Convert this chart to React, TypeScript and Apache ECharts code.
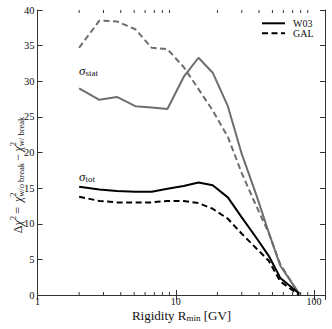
import React, { useEffect, useRef } from 'react';
import * as echarts from 'echarts';

const rigidity = [2.0, 2.8, 3.75, 5.1, 6.7, 8.7, 11.4, 14.6, 18.5, 23.8, 30, 38, 47, 57, 78];
const w03Stat = [29.0, 27.4, 27.8, 26.5, 26.3, 26.1, 30.6, 33.3, 31.2, 26.5, 19.8, 14.2, 8.8, 4.1, 0.2];
const galStat = [34.7, 38.5, 38.4, 37.3, 34.7, 34.5, 32.0, 28.9, 25.9, 22.2, 17.1, 12.6, 8.7, 4.3, 0.1];
const w03Tot = [15.2, 14.8, 14.6, 14.5, 14.5, 14.9, 15.3, 15.8, 15.4, 13.7, 10.9, 8.1, 5.5, 2.4, 0.2];
const galTot = [13.8, 13.2, 13.0, 13.0, 13.0, 13.2, 13.2, 12.9, 12.1, 10.7, 8.6, 6.6, 4.8, 1.9, 0.0];
const xMajorLabels = [1, 10, 100];
const xMinorTicks = [2, 3, 4, 5, 6, 7, 8, 9, 20, 30, 40, 50, 60, 70, 80, 90];
const legendNames = ['W03', 'GAL'];

const FONT = '"Liberation Serif", "DejaVu Serif", serif';
const TXT = '#111111';
const GRAY = '#6e6e6e';

type Piece = { t: string; s: number; dy: number; italic?: boolean; stack?: boolean };

let ctx: CanvasRenderingContext2D | null = null;
function measure(t: string, s: number, italic?: boolean) {
  if (!ctx) ctx = document.createElement('canvas').getContext('2d');
  if (!ctx) return t.length * s * 0.5;
  ctx.font = `${italic ? 'italic ' : ''}${s}px ${FONT}`;
  return ctx.measureText(t).width;
}

function run(pieces: Piece[], align: 'left' | 'center') {
  let x = 0;
  let prevStart = 0;
  const items: any[] = [];
  for (const p of pieces) {
    const start = p.stack ? prevStart : x;
    const w = measure(p.t, p.s, p.italic);
    items.push({ x: start, p });
    const end = start + w;
    x = p.stack ? Math.max(x, end) : end;
    prevStart = start;
  }
  const off = align === 'center' ? -x / 2 : 0;
  return items.map(({ x: sx, p }) => ({
    type: 'text',
    x: sx + off,
    y: p.dy,
    silent: true,
    style: {
      text: p.t,
      fontSize: p.s,
      lineHeight: p.s,
      fontFamily: FONT,
      fontStyle: p.italic ? 'italic' : 'normal',
      fill: TXT,
      align: 'left',
      verticalAlign: 'middle',
    },
  }));
}

const pair = (ys: number[]) => rigidity.map((r, i) => [r, ys[i]]);

export default function App() {
  const ref = useRef<HTMLDivElement>(null);
  useEffect(() => {
    if (!ref.current) return;
    const chart = echarts.init(ref.current, null, { renderer: 'svg' });

    const yLabel = run(
      [
        { t: 'Δ', s: 12, dy: 0 },
        { t: 'χ', s: 12, dy: 0, italic: true },
        { t: '2', s: 8.5, dy: -4.5 },
        { t: '\u2009=\u2009\u2009', s: 12, dy: 0 },
        { t: 'χ', s: 12, dy: 0, italic: true },
        { t: '2', s: 8.5, dy: -4.5 },
        { t: 'w/o break', s: 8.5, dy: 3.5, stack: true },
        { t: '\u2009−\u2009', s: 12, dy: 0 },
        { t: 'χ', s: 12, dy: 0, italic: true },
        { t: '2', s: 8.5, dy: -4.5 },
        { t: 'w/ break', s: 8.5, dy: 3.5, stack: true },
      ],
      'center'
    );
    const xLabel = run(
      [
        { t: 'Rigidity R', s: 13, dy: 0 },
        { t: 'min', s: 9, dy: 3 },
        { t: ' [GV]', s: 13, dy: 0 },
      ],
      'center'
    );
    const sStat = run(
      [
        { t: 'σ', s: 13, dy: 0, italic: true },
        { t: 'stat', s: 9, dy: 3 },
      ],
      'left'
    );
    const sTot = run(
      [
        { t: 'σ', s: 13, dy: 0, italic: true },
        { t: 'tot', s: 9, dy: 3 },
      ],
      'left'
    );

    const axisLine = { show: true, lineStyle: { color: '#333', width: 1 } };

    chart.setOption({
      animation: false,
      grid: { left: 37.5, right: 7, top: 10, bottom: 34, containLabel: false },
      xAxis: [
        {
          type: 'log',
          logBase: 10,
          min: 1,
          max: 120,
          position: 'bottom',
          axisLine,
          axisTick: { show: true, inside: true, length: 5, lineStyle: { color: '#333' } },
          axisLabel: {
            margin: 1.5,
            fontFamily: FONT,
            fontSize: 10,
            lineHeight: 10,
            color: TXT,
            showMaxLabel: false,
            formatter: (v: number) => (xMajorLabels.some((m) => Math.abs(m - v) < 1e-6) ? String(Math.round(v)) : ''),
          },
          splitLine: { show: false },
        },
        {
          type: 'log',
          logBase: 10,
          min: 1,
          max: 120,
          position: 'top',
          axisLine,
          axisTick: { show: true, inside: true, length: 5, lineStyle: { color: '#333' } },
          axisLabel: { show: false },
          splitLine: { show: false },
        },
      ],
      yAxis: [
        {
          type: 'value',
          min: 0,
          max: 40,
          interval: 5,
          position: 'left',
          axisLine,
          axisTick: { show: true, inside: true, length: 5, lineStyle: { color: '#333' } },
          axisLabel: { margin: 3, fontFamily: FONT, fontSize: 10.5, color: TXT },
          splitLine: { show: false },
        },
        {
          type: 'value',
          min: 0,
          max: 40,
          interval: 5,
          position: 'right',
          axisLine,
          axisTick: { show: true, inside: true, length: 5, lineStyle: { color: '#333' } },
          axisLabel: { show: false },
          splitLine: { show: false },
        },
      ],
      series: [
        {
          type: 'line',
          name: 'W03 stat',
          data: pair(w03Stat),
          showSymbol: false,
          lineStyle: { color: GRAY, width: 2 },
          z: 3,
        },
        {
          type: 'line',
          name: 'GAL stat',
          data: pair(galStat),
          showSymbol: false,
          lineStyle: { color: GRAY, width: 2, type: [6, 3.5] },
          z: 3,
        },
        {
          type: 'line',
          name: legendNames[0],
          data: pair(w03Tot),
          showSymbol: false,
          lineStyle: { color: '#000', width: 2 },
          z: 4,
        },
        {
          type: 'line',
          name: legendNames[1],
          data: pair(galTot),
          showSymbol: false,
          lineStyle: { color: '#000', width: 2, type: [6, 3.5] },
          z: 4,
        },
        {
          type: 'custom',
          silent: true,
          clip: false,
          data: xMinorTicks.map((v) => [v, 0]),
          encode: { x: 0, y: 1 },
          renderItem: (_p: any, api: any) => {
            const v = api.value(0);
            const b = api.coord([v, 0]);
            const t = api.coord([v, 40]);
            const st = { stroke: '#333', lineWidth: 1 };
            return {
              type: 'group',
              children: [
                { type: 'line', shape: { x1: b[0], y1: b[1], x2: b[0], y2: b[1] - 3 }, style: st },
                { type: 'line', shape: { x1: t[0], y1: t[1], x2: t[0], y2: t[1] + 3 }, style: st },
              ],
            };
          },
        },
      ],
      graphic: [
        { type: 'group', x: 17.5, y: 175, rotation: Math.PI / 2, children: yLabel },
        { type: 'group', x: 181.5, y: 315, children: xLabel },
        { type: 'group', x: 79, y: 70, children: sStat },
        { type: 'group', x: 79, y: 176, children: sTot },
        {
          type: 'line',
          shape: { x1: 262, y1: 23.3, x2: 285, y2: 23.3 },
          style: { stroke: '#000', lineWidth: 2 },
        },
        {
          type: 'line',
          shape: { x1: 262, y1: 33.3, x2: 285, y2: 33.3 },
          style: { stroke: '#000', lineWidth: 2, lineDash: [6, 3.5] },
        },
        {
          type: 'text',
          x: 293,
          y: 23,
          style: { text: legendNames[0], fontSize: 10, lineHeight: 10, fontFamily: FONT, fill: TXT, verticalAlign: 'middle' },
        },
        {
          type: 'text',
          x: 293,
          y: 33.6,
          style: { text: legendNames[1], fontSize: 10, lineHeight: 10, fontFamily: FONT, fill: TXT, verticalAlign: 'middle' },
        },
      ],
    });
    return () => chart.dispose();
  }, []);
  return <div ref={ref} style={{ width: 332, height: 329, position: 'absolute', left: 0, top: 0 }} />;
}
